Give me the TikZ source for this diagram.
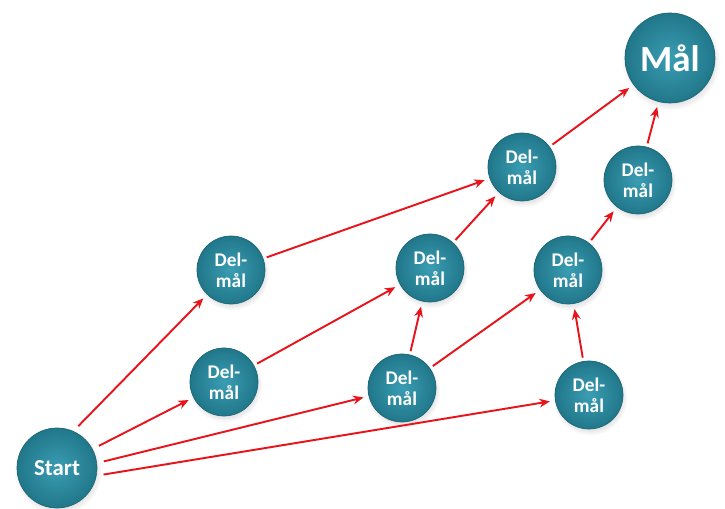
\documentclass[tikz,border=0pt]{standalone}
\usepackage{fontspec}
\setmainfont{Carlito}
\usetikzlibrary{arrows.meta, shadows}
\definecolor{ballin}{HTML}{3A9DB3}
\definecolor{ballout}{HTML}{21778A}
\definecolor{linkred}{HTML}{E8141C}

\begin{document}
\begin{tikzpicture}[
    x=0.02cm, y=-0.02cm,
    >={Stealth[length=6pt,width=5pt]},
    ball/.style={circle, draw=ballout!85!black, line width=0.4pt,
        inner color=ballin, outer color=ballout, text=white,
        font=\bfseries, align=center, inner sep=0pt,
        circular drop shadow={shadow xshift=0.5pt, shadow yshift=-1.5pt, opacity=0.2}},
    sub/.style={ball, minimum size=1.36cm, font=\bfseries\fontsize{11}{12}\selectfont},
    goal/.style={ball, minimum size=1.8cm, font=\bfseries\fontsize{21}{22}\selectfont},
    startball/.style={ball, minimum size=1.6cm, font=\bfseries\fontsize{13}{14}\selectfont},
    link/.style={->, linkred, line width=1.1pt, shorten <=2pt, shorten >=3pt}
]
\useasboundingbox (0,0) rectangle (725,509);

% Nodes placed manually
\node[startball] (start) at (57,468) {Start};
\node[goal] (goal) at (670,58) {Mål};
\node[sub] (a) at (231,270) {Del-\\mål};
\node[sub] (b) at (224,382) {Del-\\mål};
\node[sub] (c) at (522,167) {Del-\\mål};
\node[sub] (d) at (430,268) {Del-\\mål};
\node[sub] (e) at (402,388) {Del-\\mål};
\node[sub] (f) at (638,180) {Del-\\mål};
\node[sub] (g) at (568,270) {Del-\\mål};
\node[sub] (h) at (589,395) {Del-\\mål};

% Arrows
\draw[link, shorten <=4pt] (start.66) -- (a);
\draw[link, shorten <=4pt] (start.28) -- (b);
\draw[link, shorten <=4pt] (start.7) -- (e);
\draw[link, shorten <=4pt] (start.-11) -- (h);
\draw[link] (a) -- (c);
\draw[link] (b) -- (d);
\draw[link] (e) -- (d);
\draw[link] (e) -- (g);
\draw[link] (d) -- (c);
\draw[link] (c) -- (goal);
\draw[link] (h) -- (g);
\draw[link] (g) -- (f);
\draw[link] (f) -- (goal);
\end{tikzpicture}
\end{document}
